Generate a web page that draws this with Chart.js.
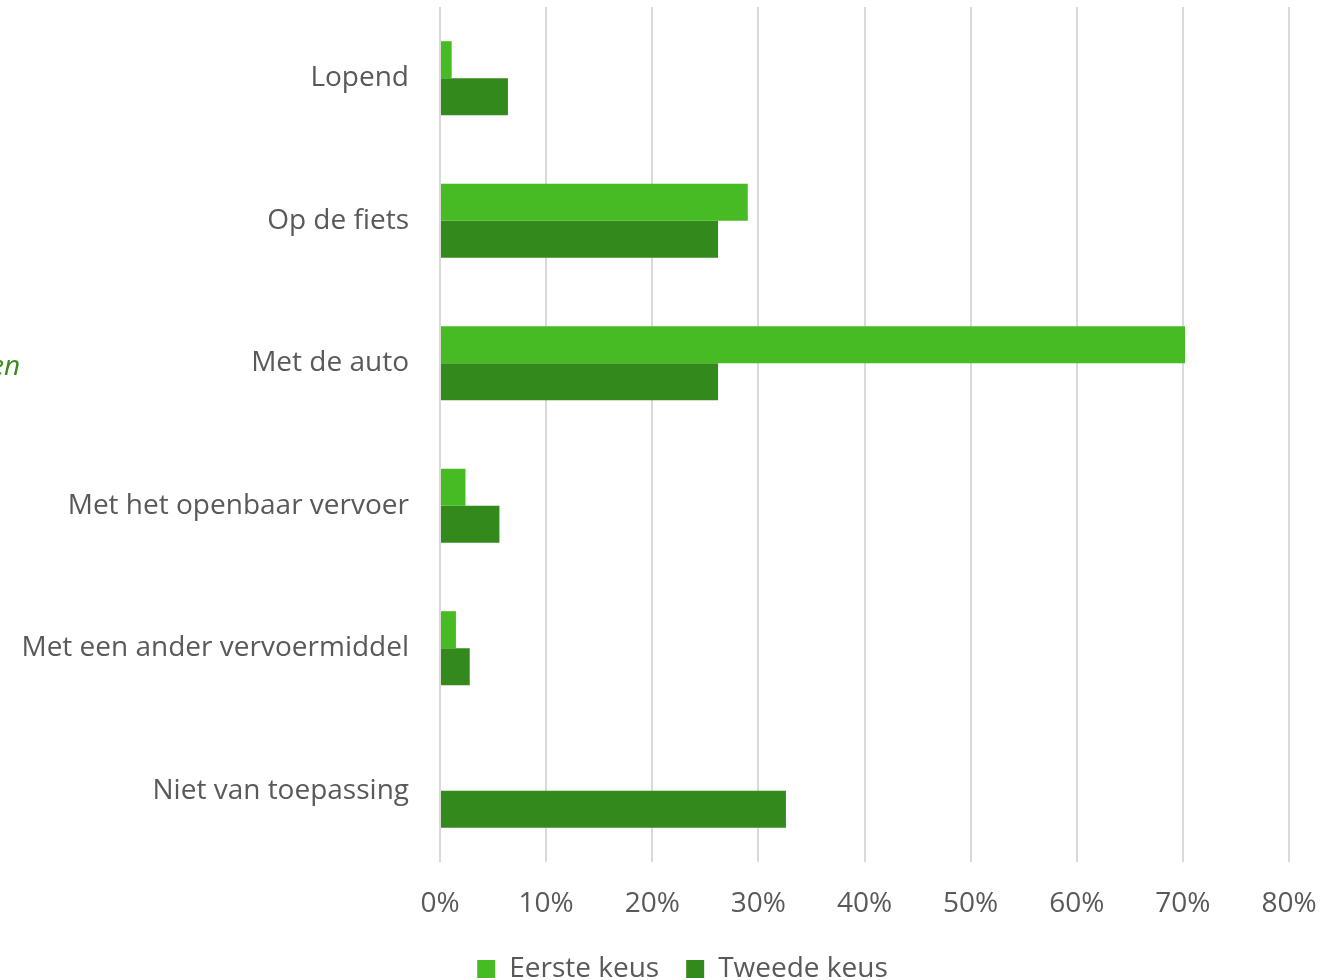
<!DOCTYPE html>
<html>
<head>
<meta charset="utf-8">
<script src="https://cdn.jsdelivr.net/npm/chart.js@4"></script>
<style>
  html, body { margin: 0; padding: 0; background: #fff; overflow: hidden; }
  #wrap { position: relative; width: 1337px; height: 980px; }
  #side { position: absolute; left: -10px; top: 345px; font: italic 28px "Open Sans", sans-serif; color: #3A8A1E; }
</style>
</head>
<body>
<div id="wrap">
  <canvas id="modeChart" width="1337" height="980"></canvas>
  <div id="side">en</div>
</div>
<script>
const categories = [
  "Lopend",
  "Op de fiets",
  "Met de auto",
  "Met het openbaar vervoer",
  "Met een ander vervoermiddel",
  "Niet van toepassing",
];
const eersteKeus = [1.1, 29.0, 70.2, 2.4, 1.5, 0];
const tweedeKeus = [6.4, 26.2, 26.2, 5.6, 2.8, 32.6];
const xMax = 80;
const xStep = 10;

const colors = {
  light: "#46BB24",
  dark: "#34891C",
  text: "#595959",
  grid: "#D9D9D9",
};

const font = { family: "'Open Sans', sans-serif", size: 28 };

// legend sits a bit right of the canvas centre in the original
const legendShift = {
  id: "legendShift",
  afterLayout(chart) {
    chart.legend.left += 38;
    chart.legend.right += 38;
  },
};

new Chart(document.getElementById("modeChart"), {
  type: "bar",
  data: {
    labels: categories,
    datasets: [
      {
        label: "Eerste keus",
        data: eersteKeus,
        backgroundColor: colors.light,
        categoryPercentage: 0.52,
        barPercentage: 1,
      },
      {
        label: "Tweede keus",
        data: tweedeKeus,
        backgroundColor: colors.dark,
        categoryPercentage: 0.52,
        barPercentage: 1,
      },
    ],
  },
  plugins: [legendShift],
  options: {
    indexAxis: "y",
    responsive: false,
    animation: false,
    layout: {
      padding: { top: 7, right: 48, left: 0, bottom: -13 },
    },
    plugins: {
      legend: {
        position: "bottom",
        labels: {
          font: font,
          color: colors.text,
          boxWidth: 18,
          boxHeight: 18,
          padding: 27,
        },
      },
      tooltip: { enabled: false },
    },
    scales: {
      x: {
        min: 0,
        max: xMax,
        ticks: {
          stepSize: xStep,
          font: font,
          color: colors.text,
          padding: 25,
          callback: (v) => v + "%",
        },
        grid: {
          color: colors.grid,
          lineWidth: 2,
          drawTicks: false,
        },
        border: { display: false },
        afterFit: (scale) => {
          scale.height = 66;
          scale.paddingLeft = 0;
          scale.paddingRight = 0;
        },
      },
      y: {
        ticks: {
          font: font,
          color: colors.text,
          padding: 31,
        },
        grid: { display: false, drawTicks: false },
        border: { display: false },
        afterFit: (scale) => {
          scale.width = 440;
          scale.paddingTop = 0;
          scale.paddingBottom = 0;
        },
      },
    },
  },
});
</script>
</body>
</html>
